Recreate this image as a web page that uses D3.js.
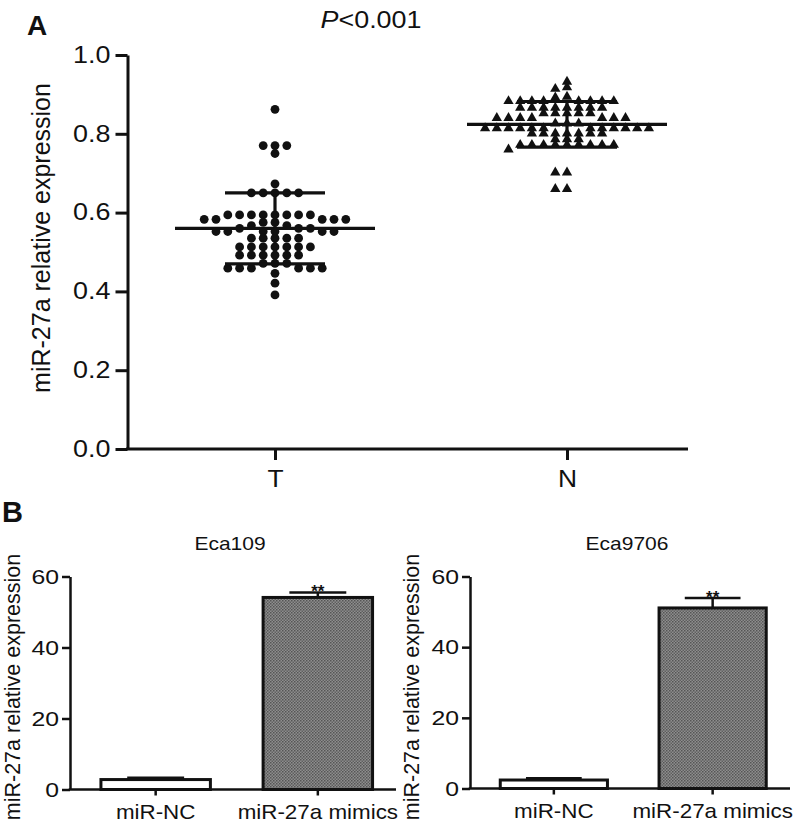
<!DOCTYPE html>
<html>
<head>
<meta charset="utf-8">
<script src="https://cdn.jsdelivr.net/npm/d3@7/dist/d3.min.js"></script>
<style>
  html, body { margin: 0; padding: 0; background: #fff; }
  svg { display: block; font-family: "Liberation Sans", Arial, Helvetica, sans-serif; }
</style>
</head>
<body>
<svg id="chart" width="799" height="828"></svg>
<script>
// ---------- Panel A data ----------
const groupsA = ["T", "N"];
const tValues = [
  0.862,
  0.770, 0.770, 0.770,
  0.750,
  0.673,
  0.650, 0.650, 0.650, 0.650, 0.650,
  0.594, 0.594, 0.594, 0.594, 0.594, 0.594, 0.594, 0.594,
  0.583, 0.583, 0.583, 0.583, 0.583,
  0.575, 0.575,
  0.567, 0.567,
  0.560, 0.560, 0.560,
  0.552, 0.552, 0.552, 0.552, 0.552, 0.552,
  0.535, 0.535, 0.535, 0.535, 0.535,
  0.513, 0.513, 0.513, 0.513, 0.513, 0.513, 0.513,
  0.492, 0.492, 0.492, 0.492, 0.492, 0.492,
  0.471, 0.471, 0.471,
  0.459, 0.459, 0.459, 0.459, 0.459, 0.459,
  0.446, 0.421, 0.391
];
const nValues = [
  0.932, 0.918, 0.914, 0.894, 0.892,
  0.883, 0.883, 0.883, 0.883, 0.883, 0.883, 0.883, 0.883,
  0.866, 0.866, 0.866, 0.866, 0.866, 0.866, 0.866, 0.866,
  0.852, 0.852, 0.852, 0.852, 0.852,
  0.840, 0.840, 0.840, 0.840, 0.840, 0.840, 0.840,
  0.826, 0.826, 0.826,
  0.814, 0.814, 0.814, 0.814, 0.814, 0.814, 0.814, 0.814, 0.814, 0.814, 0.814, 0.814,
  0.801, 0.801, 0.801, 0.801, 0.801, 0.801, 0.801,
  0.786, 0.786, 0.786,
  0.772, 0.772, 0.772, 0.772, 0.772, 0.772, 0.772, 0.772, 0.772,
  0.760,
  0.702, 0.702, 0.660, 0.660
];
const meanA = [0.560, 0.824];
const sdA = [0.090, 0.058];
const yTicksA = [0, 0.2, 0.4, 0.6, 0.8, 1.0];
const pText = "<0.001";

// ---------- Panel B data ----------
const groupsB = ["miR-NC", "miR-27a mimics"];
const titlesB = ["Eca109", "Eca9706"];
const valuesB = [[2.8, 54.1], [2.4, 51.1]];
const errorsB = [[0.5, 1.4], [0.5, 2.8]];
const sigB = [["", "**"], ["", "**"]];
const yTicksB = [0, 20, 40, 60];
const yLabel = "miR-27a relative expression";

const svg = d3.select("#chart");
const black = "#111";
const FONT = "Liberation Sans, Arial, sans-serif";

// stretch text horizontally about its anchor x (reference figure is slightly widened)
function stretch(sel, sx) {
  sel.each(function () {
    const t = d3.select(this);
    const x = +(t.attr("x") || 0);
    t.attr("transform", `translate(${x},0) scale(${sx},1) translate(${-x},0)`);
  });
}

// ================= Panel A =================
const A = { left: 127.5, right: 688, top: 55, bottom: 449 };
const yA = d3.scaleLinear().domain([0, 1]).range([A.bottom, A.top]);
const xA = d3.scalePoint().domain(groupsA).range([275, 567]);

const gA = svg.append("g");

// y axis
const yAxisA = d3.axisLeft(yA).tickValues(yTicksA).tickFormat(d3.format(".1f"))
  .tickSize(12).tickPadding(5).tickSizeOuter(0);
const gy = gA.append("g").attr("transform", `translate(${A.left},0)`).call(yAxisA);
gy.select(".domain").attr("stroke", black).attr("stroke-width", 3);
gy.selectAll(".tick line").attr("stroke", black).attr("stroke-width", 3);
gy.selectAll(".tick text").attr("font-size", 23).attr("fill", black).attr("font-family", FONT)
  .call(stretch, 1.17);

// x axis
const xAxisA = d3.axisBottom(xA).tickSize(11).tickPadding(10).tickSizeOuter(0);
const gx = gA.append("g").attr("transform", `translate(0,${A.bottom})`).call(xAxisA);
gx.select(".domain").remove();
gx.selectAll(".tick line").attr("stroke", black).attr("stroke-width", 3);
gx.selectAll(".tick text").attr("font-size", 24).attr("fill", black).attr("font-family", FONT)
  .call(stretch, 1.1);
gA.append("line").attr("x1", A.left - 1.5).attr("x2", A.right)
  .attr("y1", A.bottom).attr("y2", A.bottom).attr("stroke", black).attr("stroke-width", 3);

// y label
gA.append("text").attr("transform", `translate(50,${(A.top + A.bottom) / 2 - 14}) rotate(-90)`)
  .attr("text-anchor", "middle").attr("font-size", 25).attr("fill", black).text(yLabel);

// panel letter
gA.append("text").attr("x", 27).attr("y", 35).attr("font-size", 28).attr("font-weight", "bold").attr("fill", black).text("A");

// P value
const pt = gA.append("text").attr("x", 371).attr("y", 28).attr("text-anchor", "middle").attr("font-size", 24).attr("fill", black);
pt.append("tspan").attr("font-style", "italic").text("P");
pt.append("tspan").text(pText);
stretch(pt, 1.12);

// swarm layout on a column grid
function swarm(values, cx, step, minGap) {
  const pts = values.map(v => ({ v, y: yA(v) })).sort((a, b) => b.v - a.v);
  const cols = new Map();
  pts.forEach(p => {
    for (let k = 0; k < 200; k++) {
      const c = k === 0 ? 0 : (k % 2 ? -Math.ceil(k / 2) : k / 2);
      const arr = cols.get(c) || [];
      if (arr.every(y => Math.abs(y - p.y) >= minGap)) {
        arr.push(p.y); cols.set(c, arr); p.x = cx + c * step; break;
      }
    }
  });
  return pts;
}

const tPts = swarm(tValues, xA("T"), 11.8, 6.5);
const nPts = swarm(nValues, xA("N"), 11.7, 5);

gA.append("g").selectAll("circle").data(tPts).join("circle")
  .attr("cx", d => d.x).attr("cy", d => d.y).attr("r", 4.4).attr("fill", black);

const tri = d3.symbol().type(d3.symbolTriangle).size(46);
gA.append("g").selectAll("path").data(nPts).join("path")
  .attr("d", tri).attr("transform", d => `translate(${d.x},${d.y})`).attr("fill", black);

// mean & SD
const stats = groupsA.map((g, i) => ({ g, m: meanA[i], s: sdA[i] }));
const gs = gA.append("g").attr("stroke", black).attr("stroke-width", 3.2);
stats.forEach(d => {
  const cx = xA(d.g);
  gs.append("line").attr("x1", cx - 100).attr("x2", cx + 100).attr("y1", yA(d.m)).attr("y2", yA(d.m));
  gs.append("line").attr("x1", cx - 50).attr("x2", cx + 50).attr("y1", yA(d.m + d.s)).attr("y2", yA(d.m + d.s));
  gs.append("line").attr("x1", cx - 50).attr("x2", cx + 50).attr("y1", yA(d.m - d.s)).attr("y2", yA(d.m - d.s));
  gs.append("line").attr("x1", cx).attr("x2", cx).attr("y1", yA(d.m + d.s)).attr("y2", yA(d.m - d.s));
});

// ================= Panel B =================
svg.append("text").attr("x", 2).attr("y", 522).attr("font-size", 29).attr("font-weight", "bold").attr("fill", black).text("B");

// fill pattern for mimic bars
const defs = svg.append("defs");
const pat = defs.append("pattern").attr("id", "stip").attr("patternUnits", "userSpaceOnUse")
  .attr("width", 3).attr("height", 3);
pat.append("rect").attr("width", 3).attr("height", 3).attr("fill", "#8e8e8e");
pat.append("rect").attr("width", 1.5).attr("height", 1.5).attr("fill", "#555");
pat.append("rect").attr("x", 1.5).attr("y", 1.5).attr("width", 1.5).attr("height", 1.5).attr("fill", "#606060");

const panelsB = [
  { axisX: 70, axisEnd: 396, rangeEnd: 405, base: 789.5, top: 576.5, labelX: 19.5 },
  { axisX: 470, axisEnd: 790, rangeEnd: 798, base: 788.5, top: 576.5, labelX: 418.5 }
];

panelsB.forEach((P, pi) => {
  const g = svg.append("g");
  const y = d3.scaleLinear().domain([0, 60]).range([P.base, P.top]);
  const x = d3.scaleBand().domain(groupsB).range([P.axisX - 1.5, P.rangeEnd]).paddingInner(0.325).paddingOuter(0.2);

  const ya = d3.axisLeft(y).tickValues(yTicksB).tickSize(8).tickPadding(3).tickSizeOuter(0);
  const gya = g.append("g").attr("transform", `translate(${P.axisX},0)`).call(ya);
  gya.select(".domain").attr("stroke", black).attr("stroke-width", 2.5);
  gya.selectAll(".tick line").attr("stroke", black).attr("stroke-width", 2.5);
  gya.selectAll(".tick text").attr("font-size", 21).attr("fill", black).attr("font-family", FONT)
    .call(stretch, 1.18);

  const xa = d3.axisBottom(x).tickSize(6).tickPadding(9).tickSizeOuter(0);
  const gxa = g.append("g").attr("transform", `translate(0,${P.base})`).call(xa);
  gxa.select(".domain").remove();
  gxa.selectAll(".tick line").attr("stroke", black).attr("stroke-width", 2.5);
  gxa.selectAll(".tick text").attr("font-size", 20).attr("fill", black).attr("font-family", FONT)
    .call(stretch, 1.12);
  g.append("line").attr("x1", P.axisX - 1.25).attr("x2", P.axisEnd).attr("y1", P.base).attr("y2", P.base)
    .attr("stroke", black).attr("stroke-width", 2.5);

  const bars = groupsB.map((k, i) => ({ k, v: valuesB[pi][i], e: errorsB[pi][i], s: sigB[pi][i], i }));

  // error bars (upward)
  const ge = g.append("g").attr("stroke", black).attr("stroke-width", 2.5);
  bars.forEach(d => {
    const cx = x(d.k) + x.bandwidth() / 2;
    const cw = x.bandwidth() * 0.52;
    ge.append("line").attr("x1", cx).attr("x2", cx).attr("y1", y(d.v)).attr("y2", y(d.v + d.e));
    ge.append("line").attr("x1", cx - cw / 2).attr("x2", cx + cw / 2).attr("y1", y(d.v + d.e)).attr("y2", y(d.v + d.e));
  });

  g.append("g").selectAll("rect").data(bars).join("rect")
    .attr("x", d => x(d.k)).attr("width", x.bandwidth())
    .attr("y", d => y(d.v)).attr("height", d => y(0) - y(d.v))
    .attr("fill", d => d.i === 0 ? "#fff" : "url(#stip)")
    .attr("stroke", black).attr("stroke-width", 3);

  g.append("g").selectAll("text").data(bars.filter(d => d.s)).join("text")
    .attr("x", d => x(d.k) + x.bandwidth() / 2).attr("y", d => y(d.v + d.e) + 5)
    .attr("text-anchor", "middle").attr("font-size", 17).attr("font-weight", "bold").attr("fill", black)
    .text(d => d.s);

  const tt = g.append("text").attr("x", (P.axisX + P.axisEnd) / 2 - 3).attr("y", 550)
    .attr("text-anchor", "middle").attr("font-size", 17.5).attr("fill", black).text(titlesB[pi]);
  stretch(tt, 1.2);

  g.append("text").attr("transform", `translate(${P.labelX},687) rotate(-90)`)
    .attr("text-anchor", "middle").attr("font-size", 21.5).attr("fill", black).text(yLabel);
});
</script>
</body>
</html>
